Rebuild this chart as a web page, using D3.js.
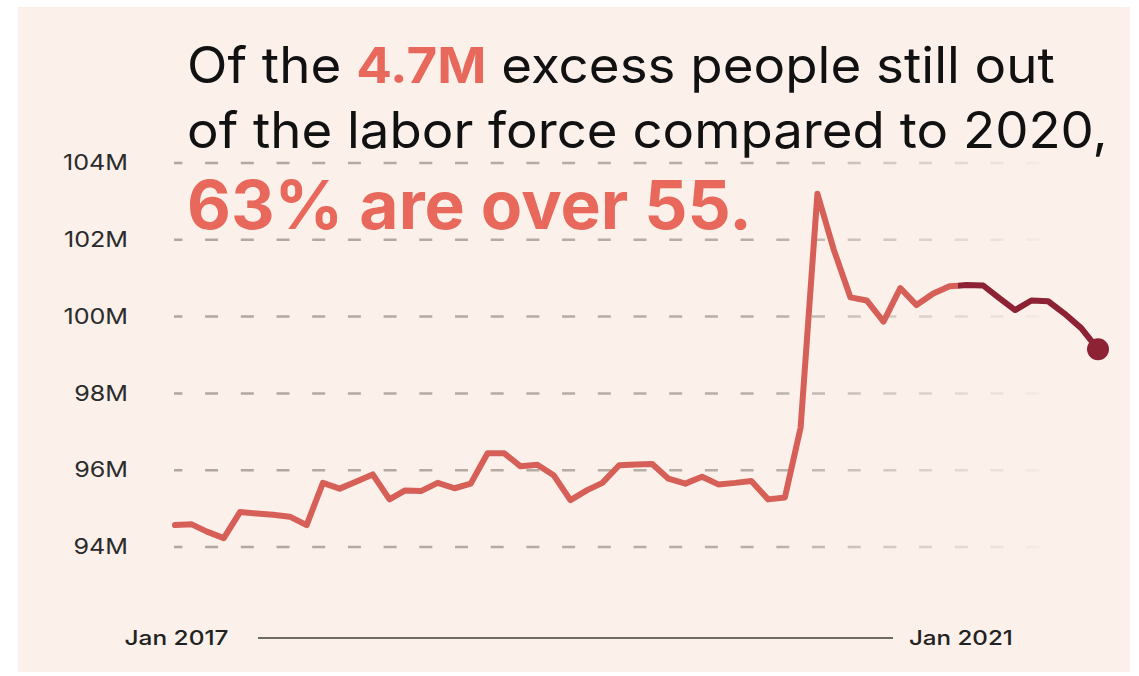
<!DOCTYPE html>
<html>
<head>
<meta charset="utf-8">
<script src="https://cdn.jsdelivr.net/npm/d3@7"></script>
<style>
  html, body { margin: 0; padding: 0; background: #ffffff; }
  svg { display: block; }
  text { font-family: Inter, "Noto Sans", sans-serif; }
</style>
</head>
<body>
<svg id="chart" width="1139" height="676"></svg>
<script>
// ---- data ----
const firstMonth = "2017-01";
const lastMonth = "2021-09";
const highlightMonth = "2021-01"; // dark segment starts around here
const values = [
  94.57, 94.59, 94.40, 94.23, 94.91, 94.87, 94.84, 94.79, 94.57, 95.67, 95.52, 95.70,
  95.89, 95.24, 95.47, 95.46, 95.67, 95.53, 95.65, 96.44, 96.44, 96.10, 96.14, 95.87,
  95.22, 95.48, 95.67, 96.13, 96.15, 96.16, 95.78, 95.65, 95.83, 95.63, 95.67, 95.72,
  95.24, 95.29, 97.11, 103.20, 101.75, 100.50, 100.42, 99.87, 100.74, 100.30, 100.60, 100.79,
  100.82, 100.81, 100.50, 100.17, 100.42, 100.40, 100.08, 99.70, 99.15
];
const yTicks = [94, 96, 98, 100, 102, 104];
const yTickLabels = ["94M", "96M", "98M", "100M", "102M", "104M"];
const xTickMonths = ["2017-01", "2021-01"];
const xTickLabels = ["Jan 2017", "Jan 2021"];
const titleLine1 = ["Of the ", "4.7M", " excess people still out"];
const titleLine2 = "of the labor force compared to 2020,";
const titleLine3 = "63% are over 55.";

// ---- setup ----
const parse = d3.timeParse("%Y-%m");
const months = d3.timeMonth.range(parse(firstMonth), d3.timeMonth.offset(parse(lastMonth), 1));
const data = months.map((m, i) => ({ date: m, value: values[i] }));

const svg = d3.select("#chart");
const colLine = "#d65f57";
const colDark = "#8c2233";
const colAccent = "#e8685b";

svg.append("rect").attr("x", 18).attr("y", 7).attr("width", 1112).attr("height", 665).attr("fill", "#fbf0ea");

const x = d3.scaleTime().domain([parse(firstMonth), parse(lastMonth)]).range([175, 1098]);
const y = d3.scaleLinear().domain([94, 104]).range([547, 163]);

// gradient for fading gridlines
const defs = svg.append("defs");
const grad = defs.append("linearGradient").attr("id", "gridFade")
  .attr("gradientUnits", "userSpaceOnUse").attr("x1", 174).attr("x2", 1048).attr("y1", 0).attr("y2", 0);
grad.append("stop").attr("offset", "0%").attr("stop-color", "#b0a89f").attr("stop-opacity", 1);
grad.append("stop").attr("offset", "68%").attr("stop-color", "#b0a89f").attr("stop-opacity", 0.9);
grad.append("stop").attr("offset", "100%").attr("stop-color", "#b0a89f").attr("stop-opacity", 0.05);

// y grid + labels
const yAxis = d3.axisLeft(y).tickValues(yTicks).tickSize(0).tickPadding(0)
  .tickFormat((d, i) => yTickLabels[i]);
const yg = svg.append("g").attr("transform", "translate(128,0)").call(yAxis);
yg.select(".domain").remove();
yg.selectAll("text").attr("font-size", 21).attr("font-weight", 400).attr("fill", "#2b2b2b")
  .attr("font-family", "Inter, sans-serif");
// widen labels slightly to match the reference letterforms
let refW = 0;
yg.selectAll("text").each(function(d) { if (d === 104) refW = this.getBBox().width; });
const ySx = 65 / refW;
yg.selectAll("text").attr("transform", `scale(${ySx},1)`);

svg.append("g").selectAll("line").data(yTicks).join("line")
  .attr("x1", 174).attr("x2", 1048)
  .attr("y1", d => y(d)).attr("y2", d => y(d))
  .attr("stroke", "url(#gridFade)").attr("stroke-width", 2.5)
  .attr("stroke-dasharray", "13,22.7").attr("stroke-dashoffset", 4.6);

// title
const t1 = svg.append("text").attr("x", 187).attr("y", 83).attr("font-size", 50).attr("fill", "#111");
t1.append("tspan").text(titleLine1[0]);
t1.append("tspan").text(titleLine1[1]).attr("font-weight", 700).attr("fill", colAccent);
t1.append("tspan").text(titleLine1[2]);
const t2 = svg.append("text").attr("x", 187).attr("y", 148).attr("font-size", 50).attr("fill", "#111").text(titleLine2);
const t3 = svg.append("text").attr("x", 187).attr("y", 229).attr("font-size", 67).attr("font-weight", 700)
  .attr("fill", colAccent).text(titleLine3);

function fitWidth(sel, x0, target) {
  const w = sel.node().getBBox().width;
  const s = target / w;
  sel.attr("transform", `translate(${x0},0) scale(${s},1) translate(${-x0},0)`);
}
fitWidth(t1, 187, 868);
fitWidth(t2, 187, 921);
fitWidth(t3, 187, 565);

// line
const line = d3.line().x(d => x(d.date)).y(d => y(d.value)).curve(d3.curveLinear);
const hiIdx = months.findIndex(m => +m === +parse(highlightMonth));
const splitX = (x(months[hiIdx - 1]) + x(months[hiIdx])) / 2;

defs.append("clipPath").attr("id", "clipLeft").append("rect")
  .attr("x", 0).attr("y", 0).attr("width", splitX).attr("height", 676);
defs.append("clipPath").attr("id", "clipRight").append("rect")
  .attr("x", splitX).attr("y", 0).attr("width", 1139 - splitX).attr("height", 676);

svg.append("path").datum(data.slice(0, hiIdx + 1))
  .attr("d", line).attr("fill", "none").attr("stroke", colLine).attr("stroke-width", 6)
  .attr("stroke-linejoin", "round").attr("stroke-linecap", "round")
  .attr("clip-path", "url(#clipLeft)");
svg.append("path").datum(data.slice(hiIdx - 1))
  .attr("d", line).attr("fill", "none").attr("stroke", colDark).attr("stroke-width", 6)
  .attr("stroke-linejoin", "round").attr("stroke-linecap", "round")
  .attr("clip-path", "url(#clipRight)");

const last = data[data.length - 1];
svg.append("circle").attr("cx", x(last.date)).attr("cy", y(last.value)).attr("r", 11).attr("fill", colDark);

// x axis
const labelShift = [1.5, -5.5];
const xa = svg.append("g");
const xLabels = xa.selectAll("text").data(xTickMonths).join("text")
  .attr("x", (d, i) => x(parse(d)) + labelShift[i]).attr("y", 638).attr("dy", "0.35em")
  .attr("text-anchor", "middle").attr("font-size", 20).attr("font-weight", 500).attr("fill", "#222")
  .text((d, i) => xTickLabels[i]);
xLabels.each(function(d, i) {
  const sel = d3.select(this);
  const w = this.getBBox().width;
  const cx = x(parse(d)) + labelShift[i];
  sel.attr("transform", `translate(${cx},0) scale(${104 / w},1) translate(${-cx},0)`);
});
xa.append("line").attr("x1", 258).attr("x2", 893).attr("y1", 638).attr("y2", 638)
  .attr("stroke", "#6f6a66").attr("stroke-width", 2);
</script>
</body>
</html>
